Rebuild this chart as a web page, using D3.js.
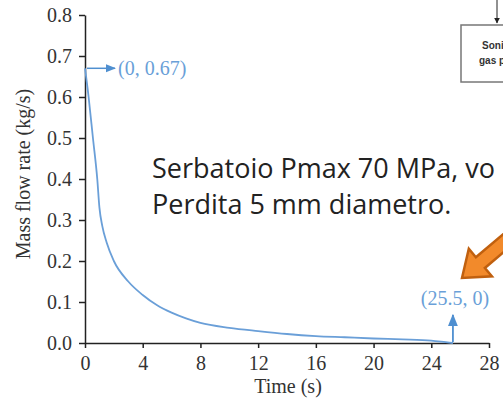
<!DOCTYPE html>
<html><head><meta charset="utf-8">
<script src="https://cdn.jsdelivr.net/npm/d3@7"></script>
<style>html,body{margin:0;padding:0;background:#fff;overflow:hidden}</style>
</head><body>
<svg id="c" width="503" height="403"></svg>
<script>
const times  = [0, 0.25, 0.55, 0.85, 1.0, 1.2, 1.5, 2, 3, 4, 5, 6, 7, 8, 10, 12, 14, 16, 18, 20, 22, 24, 25, 25.5];
const flows  = [0.67, 0.6, 0.5, 0.4, 0.33, 0.285, 0.245, 0.2, 0.15, 0.117, 0.092, 0.074, 0.06, 0.049, 0.037, 0.029, 0.022, 0.017, 0.014, 0.011, 0.009, 0.006, 0.002, 0];
const xTicks = [0, 4, 8, 12, 16, 20, 24, 28];
const yTicks = [0, 0.1, 0.2, 0.3, 0.4, 0.5, 0.6, 0.7, 0.8];
const startPoint = [0, 0.67];
const endPoint = [25.5, 0];
const noteLines = ["Serbatoio Pmax 70 MPa, vo", "Perdita 5 mm diametro."];

const svg = d3.select("#c");
const x = d3.scaleLinear().domain([0, 28]).range([85, 489]);
const y = d3.scaleLinear().domain([0, 0.8]).range([343, 15]);
const serif = "'Liberation Serif','Times New Roman',serif";
const blue = "#6a9fd8";

const defs = svg.append("defs");
defs.append("marker").attr("id","ab").attr("viewBox","0 0 10 10").attr("refX",9).attr("refY",5)
  .attr("markerWidth",7).attr("markerHeight",7).attr("orient","auto-start-reverse")
  .append("path").attr("d","M0,1L10,5L0,9Z").attr("fill","#4f8fd0");
defs.append("marker").attr("id","ak").attr("viewBox","0 0 10 10").attr("refX",9).attr("refY",5)
  .attr("markerWidth",6).attr("markerHeight",6).attr("orient","auto")
  .append("path").attr("d","M0,0L10,5L0,10Z").attr("fill","#222");

// axes
const gx = svg.append("g").attr("transform","translate(0,343)")
  .call(d3.axisBottom(x).tickValues(xTicks).tickSize(5).tickPadding(8).tickSizeOuter(0));
const gy = svg.append("g").attr("transform","translate(85,0)")
  .call(d3.axisLeft(y).tickValues(yTicks).tickFormat(d3.format(".1f")).tickSize(6).tickPadding(7).tickSizeOuter(0));
[gx, gy].forEach(g => {
  g.selectAll("path,line").attr("stroke","#222").attr("stroke-width",1.5);
  g.selectAll("text").attr("font-family",serif).attr("font-size",20).attr("fill","#333");
});

svg.append("text").attr("x",288).attr("y",393).attr("text-anchor","middle")
  .attr("font-family",serif).attr("font-size",20).attr("fill","#333").text("Time (s)");
svg.append("text").attr("transform","translate(30,174) rotate(-90)").attr("text-anchor","middle")
  .attr("font-family",serif).attr("font-size",20).attr("fill","#333").text("Mass flow rate (kg/s)");

// curve
const data = times.map((t,i)=>[t, flows[i]]);
svg.append("path").datum(data)
  .attr("d", d3.line().x(d=>x(d[0])).y(d=>y(d[1])).curve(d3.curveMonotoneX))
  .attr("fill","none").attr("stroke",blue).attr("stroke-width",1.8);

// annotations
svg.append("line").attr("x1",x(startPoint[0])+2).attr("y1",y(startPoint[1]))
  .attr("x2",x(startPoint[0])+30).attr("y2",y(startPoint[1]))
  .attr("stroke","#4f8fd0").attr("stroke-width",1.5).attr("marker-end","url(#ab)");
svg.append("text").attr("x",x(startPoint[0])+33).attr("y",y(startPoint[1])+7)
  .attr("font-family",serif).attr("font-size",20).attr("fill",blue).text("(0, 0.67)");
svg.append("line").attr("x1",x(endPoint[0])).attr("y1",y(endPoint[1])-1)
  .attr("x2",x(endPoint[0])).attr("y2",y(endPoint[1])-28)
  .attr("stroke","#4f8fd0").attr("stroke-width",1.8).attr("marker-end","url(#ab)");
svg.append("text").attr("x",x(endPoint[0])+2).attr("y",y(endPoint[1])-38).attr("text-anchor","middle")
  .attr("font-family",serif).attr("font-size",20).attr("fill",blue).text("(25.5, 0)");

// overlaid note
const note = svg.append("text").attr("font-family","'Open Sans','Noto Sans',sans-serif")
  .attr("font-size",27).attr("fill","#222");
noteLines.forEach((s,i)=> note.append("tspan").attr("x",152).attr("y",178+i*36).text(s));

// orange arrow
svg.append("g").attr("transform","translate(462,278) rotate(-40)")
  .append("path").attr("d","M0,0L24,-18L24,-7L80,-7L80,7L24,7L24,18Z")
  .attr("fill","#f28a2b").attr("stroke","#c0600f").attr("stroke-width",2.5).attr("stroke-linejoin","miter");

// diagram fragment top right
svg.append("line").attr("x1",497).attr("y1",0).attr("x2",497).attr("y2",23)
  .attr("stroke","#222").attr("stroke-width",1).attr("marker-end","url(#ak)");
svg.append("rect").attr("x",461).attr("y",25).attr("width",60).attr("height",57)
  .attr("fill","#fff").attr("stroke","#777").attr("stroke-width",1.5);
svg.append("text").attr("x",482).attr("y",49).attr("font-family","'Liberation Sans',Arial,sans-serif")
  .attr("font-weight","bold").attr("font-size",10).attr("fill","#333").text("Sonic");
svg.append("text").attr("x",479).attr("y",64).attr("font-family","'Liberation Sans',Arial,sans-serif")
  .attr("font-weight","bold").attr("font-size",10).attr("fill","#333").text("gas phase");
</script>
</body></html>
